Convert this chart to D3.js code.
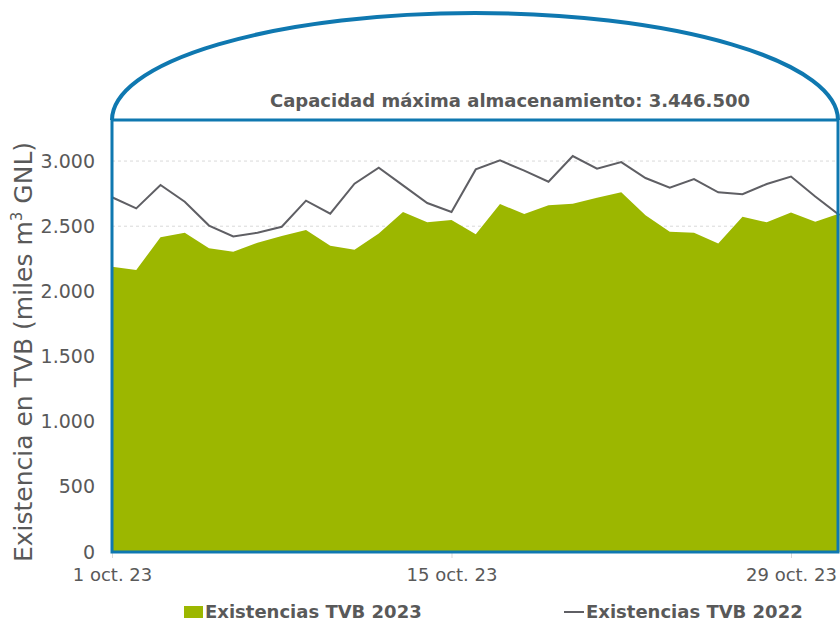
<!DOCTYPE html>
<html>
<head>
<meta charset="utf-8">
<script src="https://cdn.jsdelivr.net/npm/d3@7"></script>
<style>
  body { margin: 0; background: #fff; }
  text { font-family: "DejaVu Sans", Verdana, sans-serif; fill: #595959; }
</style>
</head>
<body>
<svg></svg>
<script>
let width = 840;
let height = 623;

// días de octubre 2023
let days = d3.range(1, 32);
let stock2023 = [2189, 2164, 2415, 2450, 2330, 2304, 2373, 2425, 2470, 2350,
    2320, 2445, 2609, 2530, 2547, 2438, 2670, 2593, 2660, 2672,
    2718, 2760, 2585, 2458, 2450, 2368, 2573, 2530, 2606, 2534, 2598];
let stock2022 = [2722, 2637, 2816, 2688, 2505, 2421, 2450, 2496, 2696, 2596,
    2826, 2949, 2813, 2678, 2609, 2936, 3005, 2926, 2841, 3038,
    2941, 2992, 2870, 2795, 2862, 2760, 2745, 2824, 2881, 2728, 2585];
let yTicks = [0, 500, 1000, 1500, 2000, 2500, 3000];
let xTickDays = [1, 15, 29];
let capacity = 3446500;
let seriesNames = ['Existencias TVB 2023', 'Existencias TVB 2022'];

let data = days.map((d, i) => ({
    date: new Date(2023, 9, d),
    v23: stock2023[i],
    v22: stock2022[i]
}));

let locale = d3.formatLocale({ decimal: ',', thousands: '.', grouping: [3], currency: ['', ''] });
let fmt = locale.format(',.0f');

let svg = d3.select('svg')
    .attr('width', width)
    .attr('height', height);

let plotLeft = 112, plotRight = 838, plotTop = 120, plotBottom = 552;

let x = d3.scaleTime()
    .domain([new Date(2023, 9, 1), new Date(2023, 9, 31)])
    .range([plotLeft, 839.5]);
let y = d3.scaleLinear()
    .domain([0, 3315])
    .range([plotBottom, plotTop]);

// grid
svg.append('g')
    .selectAll('line')
    .data(yTicks.filter(t => t > 0))
    .enter()
    .append('line')
    .attr('x1', plotLeft).attr('x2', plotRight)
    .attr('y1', d => y(d)).attr('y2', d => y(d))
    .attr('stroke', '#d9d9d9')
    .attr('stroke-width', 1)
    .attr('stroke-dasharray', '3,3');

// area 2023
let area = d3.area()
    .x(d => x(d.date))
    .y0(y(0))
    .y1(d => y(d.v23));
svg.append('path')
    .datum(data)
    .attr('d', area)
    .attr('fill', '#9cb700');

// line 2022
let line = d3.line()
    .x(d => x(d.date))
    .y(d => y(d.v22));
svg.append('path')
    .datum(data)
    .attr('d', line)
    .attr('fill', 'none')
    .attr('stroke', '#5f5f64')
    .attr('stroke-width', 2);

// y axis labels
let yAxis = d3.axisLeft(y)
    .tickValues(yTicks)
    .tickFormat(fmt)
    .tickSize(0)
    .tickPadding(17);
let yg = svg.append('g')
    .attr('transform', `translate(${plotLeft},0)`)
    .call(yAxis);
yg.select('.domain').remove();
yg.selectAll('text')
    .attr('font-size', 19)
    .attr('font-family', '"DejaVu Sans", Verdana, sans-serif')
    .attr('fill', '#595959');

// x axis
let xAxis = d3.axisBottom(x)
    .tickValues(xTickDays.map(d => new Date(2023, 9, d)))
    .tickFormat(d => d.getDate() + ' oct. 23')
    .tickSize(6)
    .tickPadding(10);
let xg = svg.append('g')
    .attr('transform', `translate(0,${plotBottom})`)
    .call(xAxis);
xg.select('.domain').remove();
xg.selectAll('line').attr('stroke', '#d9d9d9');
xg.selectAll('text')
    .attr('font-size', 18)
    .attr('font-family', '"DejaVu Sans", Verdana, sans-serif')
    .attr('fill', '#595959');

// tanque
let blue = '#0f78b0';
svg.append('rect')
    .attr('x', plotLeft).attr('y', plotTop)
    .attr('width', plotRight - plotLeft).attr('height', plotBottom - plotTop)
    .attr('fill', 'none')
    .attr('stroke', blue)
    .attr('stroke-width', 3);
let rx = (plotRight - plotLeft) / 2;
svg.append('path')
    .attr('d', `M${plotLeft},${plotTop} A${rx},107 0 0 1 ${plotRight},${plotTop}`)
    .attr('fill', 'none')
    .attr('stroke', blue)
    .attr('stroke-width', 4);

svg.append('text')
    .attr('x', 510).attr('y', 107)
    .attr('text-anchor', 'middle')
    .attr('font-size', 18)
    .attr('font-weight', 'bold')
    .text('Capacidad máxima almacenamiento: ' + fmt(capacity));

// y title
let yt = svg.append('text')
    .attr('transform', 'translate(32,352) rotate(-90)')
    .attr('text-anchor', 'middle')
    .attr('font-size', 25);
yt.append('tspan').text('Existencia en TVB (miles m');
yt.append('tspan').attr('dy', -10).attr('font-size', 15).text('3');
yt.append('tspan').attr('dy', 10).text(' GNL)');

// legend
let lg = svg.append('g');
lg.append('rect')
    .attr('x', 184).attr('y', 606)
    .attr('width', 19).attr('height', 12)
    .attr('fill', '#9cb700');
lg.append('text')
    .attr('x', 205).attr('y', 618)
    .attr('font-size', 18)
    .attr('font-weight', 'bold')
    .text(seriesNames[0]);
lg.append('line')
    .attr('x1', 564).attr('x2', 584)
    .attr('y1', 612).attr('y2', 612)
    .attr('stroke', '#5f5f64')
    .attr('stroke-width', 2);
lg.append('text')
    .attr('x', 586).attr('y', 618)
    .attr('font-size', 18)
    .attr('font-weight', 'bold')
    .text(seriesNames[1]);
</script>
</body>
</html>
